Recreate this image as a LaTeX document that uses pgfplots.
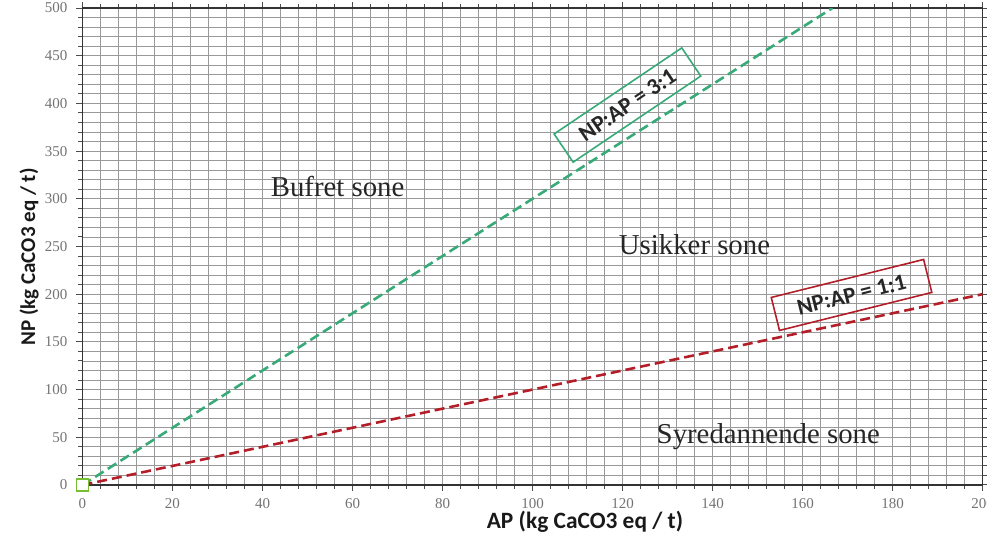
\documentclass[border=0pt]{standalone}
\usepackage{fontspec}
\setmainfont{Liberation Serif}
\newfontfamily\calibri{Carlito}
\usepackage{pgfplots}
\pgfplotsset{compat=1.18}
\definecolor{ngreen}{RGB}{55,170,120}
\definecolor{nred}{RGB}{180,30,40}
\definecolor{sqgreen}{RGB}{120,190,50}
\begin{document}
\begin{tikzpicture}
\begin{axis}[name=ax, scale only axis, width=450pt, height=238.5pt,
  xmin=0, xmax=200, ymin=0, ymax=500,
  xtick={0,20,...,200}, ytick={0,50,...,500},
  minor xtick={0,4,...,200}, minor ytick={0,10,...,500},
  grid=both,
  major grid style={gray!80, line width=0.45pt},
  minor grid style={gray!80, line width=0.45pt},
  axis line style={black!80, line width=0.8pt},
  tick align=outside, major tick length=3pt, minor tick length=2pt,
  tick style={black!70, line width=0.5pt},
  /pgf/number format/assume math mode=true,
  ticklabel style={font=\fontsize{7.5}{8}\selectfont, text=black!55},
  xticklabel style={yshift=0pt},
  yticklabel style={xshift=-1pt},
  xlabel={AP (kg CaCO3 eq / t)},
  ylabel={NP (kg CaCO3 eq / t)},
  xlabel style={at={(axis description cs:0.5583,-0.0776)}, anchor=center, font=\calibri\bfseries\fontsize{11.7}{13}\selectfont, text=black!90},
  ylabel style={at={(axis description cs:-0.0594,0.478)}, anchor=center, font=\calibri\bfseries\fontsize{10.5}{12}\selectfont, text=black!90},
  clip mode=individual,
]
\addplot[ngreen, line width=1.3pt, dash pattern=on 5pt off 2.5pt] coordinates {(0,0) (166.67,500)};
\addplot[nred, line width=1.3pt, dash pattern=on 5pt off 2.5pt] coordinates {(0,0) (200,200)};
\addplot[only marks, mark=square*, mark size=3pt, mark options={draw=sqgreen, fill=white, line width=0.9pt}] coordinates {(0,0)};
\node[font=\fontsize{14.4}{16}\selectfont, text=black!85] at (axis cs:56.7,312.4) {Bufret sone};
\node[font=\fontsize{14.4}{16}\selectfont, text=black!85] at (axis cs:136,251.6) {Usikker sone};
\node[font=\fontsize{14.4}{16}\selectfont, text=black!85] at (axis cs:152.4,50.3) {Syredannende sone};
\node[draw=ngreen, line width=0.8pt, rotate=34, minimum width=77pt, minimum height=17pt, inner sep=0pt, font=\calibri\bfseries\fontsize{11.5}{13}\selectfont, text=black!85] at (axis cs:121.1,398.3) {NP:AP = 3:1};
\node[draw=nred, line width=0.8pt, rotate=14, minimum width=78.5pt, minimum height=17pt, inner sep=0pt, font=\calibri\bfseries\fontsize{11.5}{13}\selectfont, text=black!85] at (axis cs:170.9,199.2) {NP:AP = 1:1};
\end{axis}
\pgfresetboundingbox
\path[use as bounding box] ([xshift=-41.25pt,yshift=-27.5pt]ax.south west) rectangle ([xshift=2.25pt,yshift=4pt]ax.north east);
\end{tikzpicture}
\end{document}
